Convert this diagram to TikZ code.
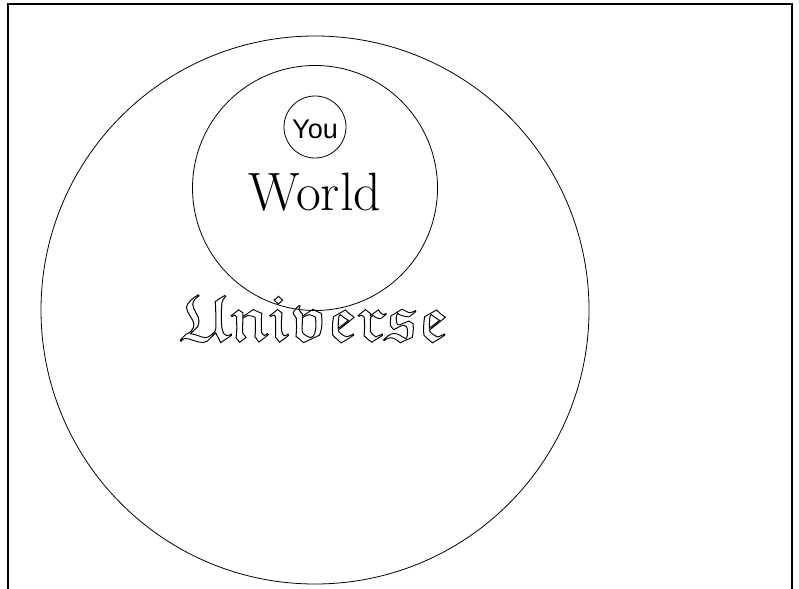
\documentclass[tikz,border=0pt]{standalone}
\usepackage{fontspec}
\usepackage{amssymb}
\newfontfamily\helv{Liberation Sans}
\newcommand{\hohltext}[1]{\special{pdf:literal direct 1 Tr 0.9 w}#1\special{pdf:literal direct 0 Tr}}

\begin{document}
\begin{tikzpicture}[x=1pt,y=-1pt,line width=0.8pt,
    ring/.style={circle,draw,inner sep=0pt}]
  \useasboundingbox (0,0) rectangle (799,588);
  % rahmen
  \draw[line width=1.4pt] (8,600) -- (8,4) -- (792,4) -- (792,600);
  % kreise
  \node[ring,minimum size=548pt] (universe) at (315,310) {};
  \node[ring,minimum size=245pt] (world) at (315,188) {};
  \node[ring,minimum size=62pt] (you) at (315,127) {};
  % texte
  \node (youtext) at (315,129) {\helv\fontsize{27}{27}\selectfont You};
  \node (worldtext) at (315,192) {\fontsize{54}{54}\selectfont World};
  \node (universetext) at (315,318)
    {\hohltext{\scalebox{1.12}[1]{\fontsize{66}{66}\selectfont$\mathfrak{Universe}$}}};
\end{tikzpicture}
\end{document}
